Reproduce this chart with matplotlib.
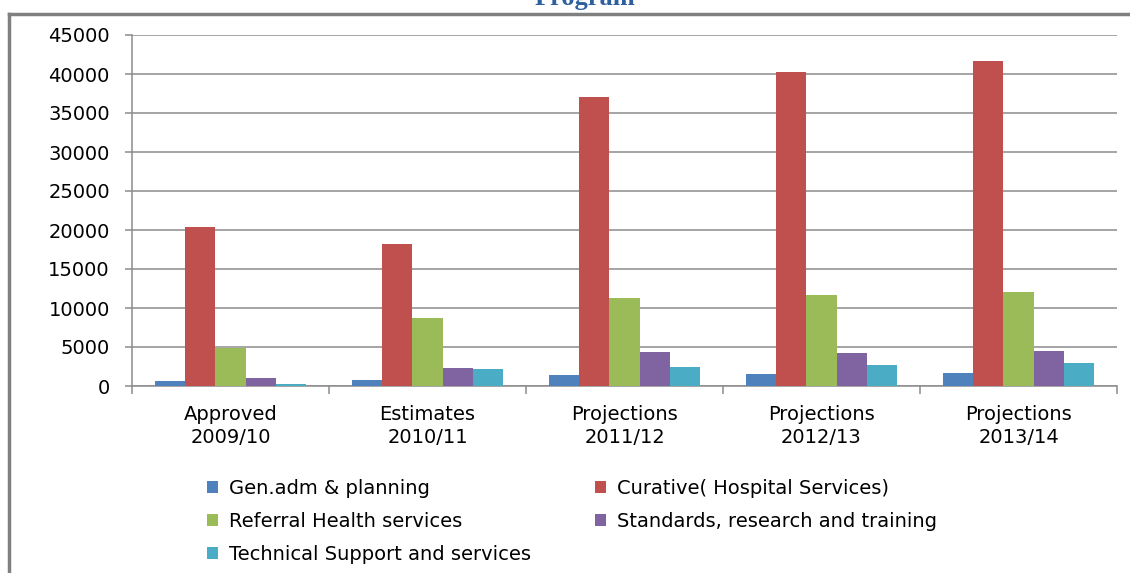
"""
Budget by programme, approved / estimates / projections, grouped bar chart.
"""
import numpy as np
import matplotlib
matplotlib.use("Agg")
import matplotlib.pyplot as plt
from matplotlib.lines import Line2D

CATEGORIES = ["Approved\n2009/10", "Estimates\n2010/11", "Projections\n2011/12",
              "Projections\n2012/13", "Projections\n2013/14"]
SERIES = ["Gen.adm & planning", "Curative( Hospital Services)",
          "Referral Health services", "Standards, research and training",
          "Technical Support and services"]
GEN_ADM = [680, 810, 1410, 1540, 1670]
CURATIVE = [20400, 18200, 37050, 40250, 41650]
REFERRAL = [4900, 8760, 11280, 11670, 12050]
STANDARDS = [1030, 2300, 4360, 4230, 4490]
TECHNICAL = [250, 2180, 2440, 2690, 2950]
COLORS = ["#4F81BD", "#C0504D", "#9BBB59", "#8064A2", "#4BACC6"]
YTICKS = list(range(0, 45001, 5000))

W, H = 1130, 573
fig = plt.figure(figsize=(W / 100, H / 100), dpi=100)
ax = fig.add_axes([132 / W, 1 - 386 / H, (1117 - 132) / W, (386 - 35) / H])

values = [GEN_ADM, CURATIVE, REFERRAL, STANDARDS, TECHNICAL]
x = np.arange(len(CATEGORIES))
bw = 0.153
handles = []
for i, (name, vals, col) in enumerate(zip(SERIES, values, COLORS)):
    b = ax.bar(x + (i - 2) * bw, vals, width=bw, color=col, label=name, zorder=3)
    handles.append(b)

ax.set_xlim(-0.5, len(CATEGORIES) - 0.5)
ax.set_ylim(0, 45000)
ax.set_yticks(YTICKS)
ax.set_yticklabels([str(v) for v in YTICKS], fontsize=14)
ax.yaxis.grid(True, color="#8c8c8c", linewidth=1.1, zorder=0)

# category boundaries carry the tick marks, labels sit at the centres
ax.set_xticks(np.arange(-0.5, len(CATEGORIES), 1.0))
ax.set_xticklabels([])
ax.set_xticks(x, minor=True)
ax.set_xticklabels(CATEGORIES, minor=True, fontsize=14, linespacing=1.25)
ax.tick_params(axis="x", which="major", length=6, color="#8c8c8c", width=1.1)
ax.tick_params(axis="x", which="minor", length=0, pad=14)
ax.tick_params(axis="y", length=5, color="#8c8c8c", width=1.1, pad=11)

for s in ["top", "right"]:
    ax.spines[s].set_visible(False)
for s in ["left", "bottom"]:
    ax.spines[s].set_color("#8c8c8c")
    ax.spines[s].set_linewidth(1.1)

order = [0, 2, 4, 1, 3]
fig.legend([handles[i] for i in order], [SERIES[i] for i in order],
           ncol=2, loc="upper left", bbox_to_anchor=(207 / W, 1 - 479 / H),
           frameon=False, fontsize=14, handlelength=0.58, handleheight=0.58,
           handletextpad=0.55, columnspacing=3.3, labelspacing=0.72,
           borderaxespad=0, borderpad=0)

# outer chart frame, cropped at the right and bottom
fig.add_artist(Line2D([9 / W, 9 / W], [0, 1 - 14 / H], transform=fig.transFigure,
                      color="#808080", linewidth=2.5))
fig.add_artist(Line2D([9 / W, 1], [1 - 14 / H, 1 - 14 / H], transform=fig.transFigure,
                      color="#808080", linewidth=2.5))

fig.text(585 / W, 1 - 10 / H, "Program", ha="center", va="bottom", fontsize=19,
         fontweight="bold", family="Liberation Serif", color="#2E5F9E")

fig.savefig("out.png", dpi=100)
